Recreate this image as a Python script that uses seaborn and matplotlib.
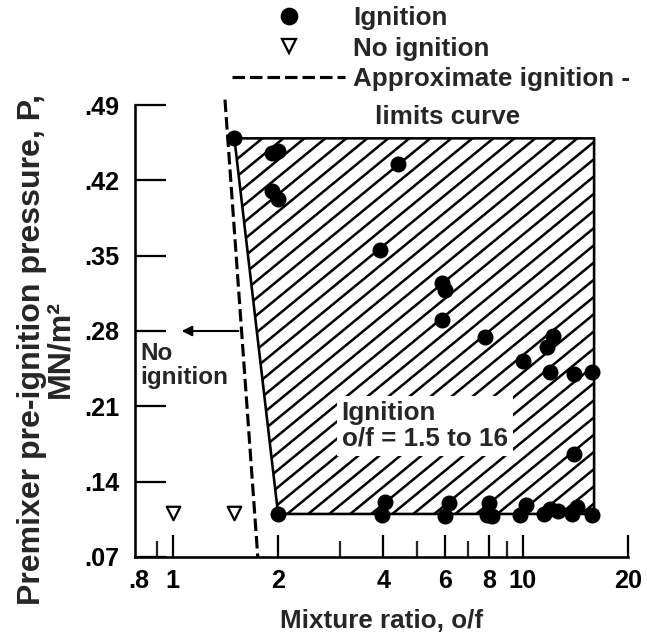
import numpy as np
import matplotlib
matplotlib.use("Agg")
import matplotlib.pyplot as plt
import seaborn as sns
from matplotlib.lines import Line2D
from matplotlib.collections import LineCollection
from matplotlib.ticker import FixedLocator, FixedFormatter, NullFormatter

# ---------------- data ----------------
ign_of = [1.5, 1.92, 2.0, 1.92, 2.0, 4.4, 3.9, 5.9, 6.0, 5.9, 7.8, 10.0,
          11.7, 12.2, 12.0, 14.0, 15.8, 14.0,
          2.0, 3.95, 4.05, 6.0, 6.15, 7.9, 8.0, 8.15, 9.8, 10.2,
          11.5, 12.0, 12.6, 13.8, 14.3, 15.8]
ign_p = [0.459, 0.445, 0.447, 0.410, 0.403, 0.435, 0.355, 0.325, 0.318, 0.290, 0.274, 0.252,
         0.265, 0.275, 0.242, 0.240, 0.242, 0.166,
         0.110, 0.109, 0.121, 0.108, 0.120, 0.109, 0.120, 0.108, 0.109, 0.118,
         0.110, 0.115, 0.113, 0.110, 0.116, 0.109]

noign_of = [1.0, 1.5]
noign_p = [0.111, 0.111]

region_of = [1.5, 16.0, 16.0, 2.0]
region_p = [0.459, 0.459, 0.110, 0.110]

limit_of = [1.41, 1.75]
limit_p = [0.495, 0.07]

arrow_of = [1.54, 1.06]
arrow_p = [0.28, 0.28]

xticks = [0.8, 1, 2, 4, 6, 8, 10, 20]
xticklabels = [".8", "1", "2", "4", "6", "8", "10", "20"]
xminor = [0.9, 3, 5, 7, 9]
yticks = [0.07, 0.14, 0.21, 0.28, 0.35, 0.42, 0.49]
yticklabels = [".07", ".14", ".21", ".28", ".35", ".42", ".49"]

# ---------------- style ----------------
sns.set_theme(style="white")
plt.rcParams["font.family"] = ["Liberation Sans", "DejaVu Sans"]
plt.rcParams["font.weight"] = "bold"

DPI = 125
W_PX, H_PX = 493, 452
fig = plt.figure(figsize=(647 / DPI, 635 / DPI), dpi=DPI)
fig.patch.set_facecolor("white")
ax = fig.add_axes([135 / 647, 1 - 557 / 635, W_PX / 647, H_PX / 635])
ax.set_facecolor("none")
ax.set_xscale("log")

# ignition region outline
region = ax.fill(region_of, region_p, facecolor="none", edgecolor="black",
                 linewidth=1.5, zorder=2)[0]

# diagonal hatching clipped to the region (decoration, axes-fraction coords)
slope, step = 0.82, 21.0
x0s = np.arange(-H_PX / slope, W_PX + step, step)
segs = [[(x0 / W_PX, 0.0), ((x0 + H_PX / slope) / W_PX, 1.0)] for x0 in x0s]
hatch = LineCollection(segs, colors="black", linewidths=1.45,
                       transform=ax.transAxes, zorder=1)
ax.add_collection(hatch, autolim=False)
hatch.set_clip_path(region)

# points
sns.scatterplot(x=ign_of, y=ign_p, ax=ax, color="black", s=85,
                linewidth=0, marker="o", zorder=4, clip_on=False)
sns.scatterplot(x=noign_of, y=noign_p, ax=ax, color="white", s=60,
                edgecolor="black", linewidth=1.3, marker="v", zorder=4)

# approximate ignition-limits curve
ax.plot(limit_of, limit_p, color="black", lw=1.8, linestyle=(0, (4, 1.6)),
        zorder=3, clip_on=False)

# arrow
ax.annotate("", xy=(arrow_of[1], arrow_p[1]), xytext=(arrow_of[0], arrow_p[0]),
            arrowprops=dict(arrowstyle="-|>", color="black", lw=1.2,
                            mutation_scale=12, shrinkA=0, shrinkB=0))

ax.text(0.81, 0.248, "No\nignition", fontsize=14, fontweight="bold",
        ha="left", va="center", linespacing=1.1)
ax.text(3.04, 0.192, "Ignition\no/f = 1.5 to 16", fontsize=15, fontweight="bold",
        ha="left", va="center", linespacing=1.1, zorder=5,
        bbox=dict(facecolor="white", edgecolor="none", pad=3))

# axes
ax.set_xlim(0.78, 20)
ax.set_ylim(0.07, 0.49)
for s in ["top", "right"]:
    ax.spines[s].set_visible(False)
for s in ["left", "bottom"]:
    ax.spines[s].set_linewidth(1.5)
    ax.spines[s].set_color("black")

ax.xaxis.set_major_locator(FixedLocator(xticks))
ax.xaxis.set_major_formatter(FixedFormatter(xticklabels))
ax.xaxis.set_minor_locator(FixedLocator(xminor))
ax.xaxis.set_minor_formatter(NullFormatter())
ax.set_yticks(yticks)
ax.set_yticklabels(yticklabels)

ax.tick_params(axis="x", which="major", direction="in", length=12.5, width=1.3,
               pad=7, labelsize=14.5, colors="black", bottom=True)
ax.tick_params(axis="x", which="minor", direction="in", length=9, width=1.3,
               bottom=True)
ax.tick_params(axis="y", which="major", direction="in", length=18, width=1.3,
               pad=9, labelsize=14.5, colors="black", left=True)
ax.xaxis.get_major_ticks()[0].tick1line.set_visible(False)
for lab in ax.get_xticklabels() + ax.get_yticklabels():
    lab.set_fontweight("bold")

ax.set_xlabel("Mixture ratio, o/f", fontsize=15, fontweight="bold", labelpad=9)
ax.set_ylabel("Premixer pre-ignition pressure, P,\nMN/m\u00b2", fontsize=18.5,
              fontweight="bold", linespacing=0.95)
ax.yaxis.set_label_coords(-0.12, 0.46)

# legend
handles = [
    Line2D([], [], marker="o", ls="none", color="black", markersize=9.2),
    Line2D([], [], marker="v", ls="none", markerfacecolor="white",
           markeredgecolor="black", markeredgewidth=1.3, markersize=8),
    Line2D([], [], ls=(0, (4, 1.6)), color="black", lw=1.8),
]
labels = ["Ignition", "No ignition", "Approximate ignition -"]
leg = fig.legend(handles, labels, loc="upper left",
                 bbox_to_anchor=(232 / 647, 1 - 6 / 635),
                 frameon=False, prop={"size": 15, "weight": "bold"},
                 handlelength=4.35, handletextpad=0.3, labelspacing=0.25,
                 borderpad=0, borderaxespad=0)
fig.text(375 / 647, 1 - 117 / 635, "limits curve", fontsize=15,
         fontweight="bold", ha="left", va="center")

fig.savefig("out.png", dpi=DPI, facecolor="white")
